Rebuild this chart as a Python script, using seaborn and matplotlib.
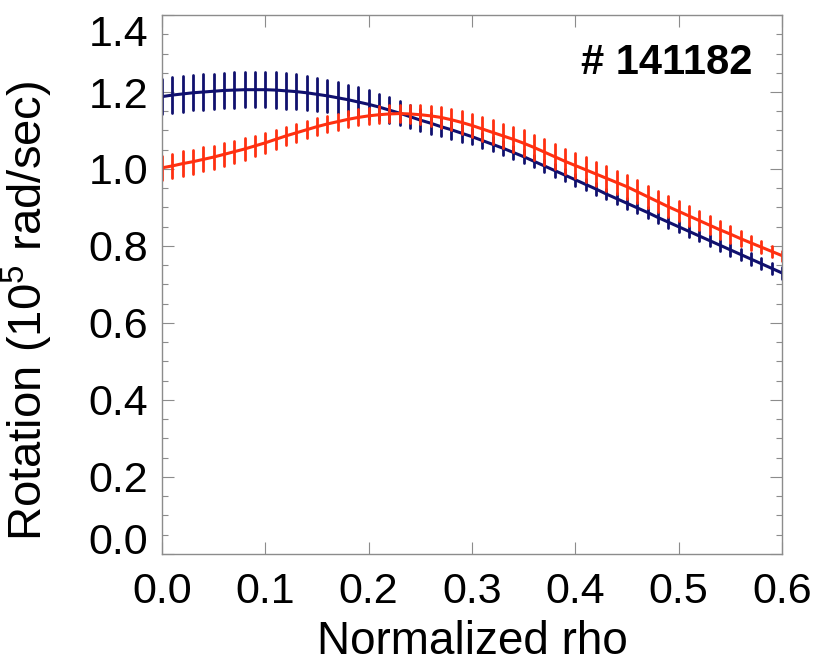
import numpy as np
import pandas as pd
import matplotlib
matplotlib.use("Agg")
import matplotlib.pyplot as plt
from matplotlib.ticker import MultipleLocator
import seaborn as sns

# Normalized rho grid (0.00 .. 0.60 in steps of 0.01)
rho = [round(0.01 * i, 2) for i in range(61)]

# Rotation profiles (10^5 rad/sec) and their uncertainties
blue_rot = [1.188, 1.192, 1.195, 1.198, 1.200, 1.202, 1.204, 1.205, 1.206, 1.206,
            1.206, 1.205, 1.203, 1.201, 1.198, 1.194, 1.190, 1.185, 1.180, 1.174,
            1.168, 1.161, 1.153, 1.145, 1.136, 1.127, 1.119, 1.110, 1.102, 1.093,
            1.084, 1.074, 1.064, 1.054, 1.043, 1.032, 1.020, 1.008, 0.996, 0.984,
            0.972, 0.960, 0.948, 0.935, 0.923, 0.911, 0.899, 0.887, 0.874, 0.862,
            0.850, 0.838, 0.826, 0.814, 0.802, 0.790, 0.778, 0.766, 0.754, 0.742,
            0.730]
blue_err = [0.046, 0.046, 0.046, 0.046, 0.046, 0.046, 0.046, 0.046, 0.046, 0.046,
            0.046, 0.046, 0.046, 0.045, 0.044, 0.043, 0.042, 0.040, 0.039, 0.038,
            0.037, 0.035, 0.034, 0.032, 0.030, 0.029, 0.027, 0.025, 0.023, 0.022,
            0.020, 0.019, 0.018, 0.018, 0.017, 0.017, 0.016, 0.016, 0.016, 0.015,
            0.015, 0.015, 0.015, 0.014, 0.014, 0.014, 0.014, 0.014, 0.014, 0.014,
            0.014, 0.014, 0.014, 0.014, 0.014, 0.015, 0.015, 0.015, 0.015, 0.015,
            0.015]

red_rot = [1.003, 1.008, 1.014, 1.019, 1.025, 1.031, 1.038, 1.045, 1.052, 1.060,
           1.068, 1.077, 1.086, 1.094, 1.102, 1.110, 1.117, 1.123, 1.129, 1.134,
           1.138, 1.141, 1.143, 1.144, 1.143, 1.141, 1.138, 1.134, 1.128, 1.121,
           1.113, 1.104, 1.095, 1.086, 1.077, 1.067, 1.056, 1.044, 1.032, 1.020,
           1.009, 0.998, 0.987, 0.976, 0.965, 0.954, 0.941, 0.928, 0.915, 0.902,
           0.890, 0.878, 0.866, 0.854, 0.842, 0.831, 0.819, 0.808, 0.797, 0.786,
           0.775]
red_err = [0.032, 0.032, 0.032, 0.031, 0.031, 0.030, 0.029, 0.029, 0.028, 0.027,
           0.026, 0.025, 0.024, 0.023, 0.022, 0.022, 0.021, 0.021, 0.021, 0.021,
           0.021, 0.022, 0.022, 0.023, 0.024, 0.025, 0.026, 0.027, 0.028, 0.029,
           0.029, 0.030, 0.031, 0.032, 0.032, 0.033, 0.033, 0.033, 0.033, 0.033,
           0.033, 0.032, 0.032, 0.032, 0.031, 0.031, 0.030, 0.029, 0.028, 0.027,
           0.026, 0.025, 0.024, 0.023, 0.023, 0.022, 0.020, 0.018, 0.016, 0.015,
           0.013]

series_names = ["blue", "red"]
series_colors = {"blue": "#10106e", "red": "#ff3010"}

# Long table: each profile point stored as its lower and upper bound,
# so the mean is the value and the min/max span is the error bar.
rows = []
for name, vals, errs in [("blue", blue_rot, blue_err), ("red", red_rot, red_err)]:
    for x, v, e in zip(rho, vals, errs):
        rows.append({"rho": x, "rot": v - e, "series": name})
        rows.append({"rho": x, "rot": v + e, "series": name})
df = pd.DataFrame(rows)

sns.set_style("ticks")
plt.rcParams["font.family"] = ["Liberation Sans", "DejaVu Sans"]
plt.rcParams["text.color"] = "black"
plt.rcParams["axes.labelcolor"] = "black"
plt.rcParams["xtick.labelcolor"] = "black"
plt.rcParams["ytick.labelcolor"] = "black"
plt.rcParams["mathtext.fontset"] = "custom"
plt.rcParams["mathtext.rm"] = "Liberation Sans"
plt.rcParams["mathtext.it"] = "Liberation Sans"
plt.rcParams["mathtext.bf"] = "Liberation Sans:bold"

fig = plt.figure(figsize=(8.16, 6.64), dpi=100)
ax = fig.add_axes([0.1985, 0.1657, 0.7598, 0.8117])

sns.lineplot(
    data=df, x="rho", y="rot", hue="series", hue_order=series_names,
    palette=series_colors, estimator="mean",
    errorbar=lambda s: (s.min(), s.max()),
    err_style="bars", err_kws={"linewidth": 2.0, "capsize": 0},
    linewidth=2.2, legend=False, ax=ax,
)

ax.set_xlim(0, 0.6)
ax.set_ylim(0, 1.4)
ax.xaxis.set_major_locator(MultipleLocator(0.1))
ax.yaxis.set_major_locator(MultipleLocator(0.2))
ax.yaxis.set_minor_locator(MultipleLocator(0.05))

axis_gray = "#8c8c8c"
for sp in ax.spines.values():
    sp.set_color(axis_gray)
    sp.set_linewidth(1.0)
    sp.set_visible(True)
ax.tick_params(which="both", direction="in", top=True, right=True,
               color=axis_gray, width=0.8, labelsize=31, labelcolor="black")
ax.tick_params(which="major", length=8.5)
ax.tick_params(which="minor", length=4.5)
ax.tick_params(axis="x", pad=13)
ax.tick_params(axis="y", pad=10)

ax.set_xticks([0.0, 0.1, 0.2, 0.3, 0.4, 0.5, 0.6])
ax.set_xticklabels(["0.0", "0.1", "0.2", "0.3", "0.4", "0.5", "0.6"])
ax.set_yticks([0.0, 0.2, 0.4, 0.6, 0.8, 1.0, 1.2, 1.4])
ylabels = ax.set_yticklabels(["0.0", "0.2", "0.4", "0.6", "0.8", "1.0", "1.2", "1.4"])
ylabels[0].set_verticalalignment("baseline")
ylabels[-1].set_verticalalignment("top")

ax.set_xlabel("Normalized rho", fontsize=33, color="black")
ax.xaxis.set_label_coords(0.5, -0.122)
ax.set_ylabel(r"Rotation (10$^5$ rad/sec)", fontsize=34, color="black")
ax.yaxis.set_label_coords(-0.172, 0.452)

ax.text(0.952, 0.911, "# 141182", transform=ax.transAxes, ha="right",
        va="center", fontsize=30, fontweight="bold", color="black")

fig.savefig("out.png", dpi=100)
